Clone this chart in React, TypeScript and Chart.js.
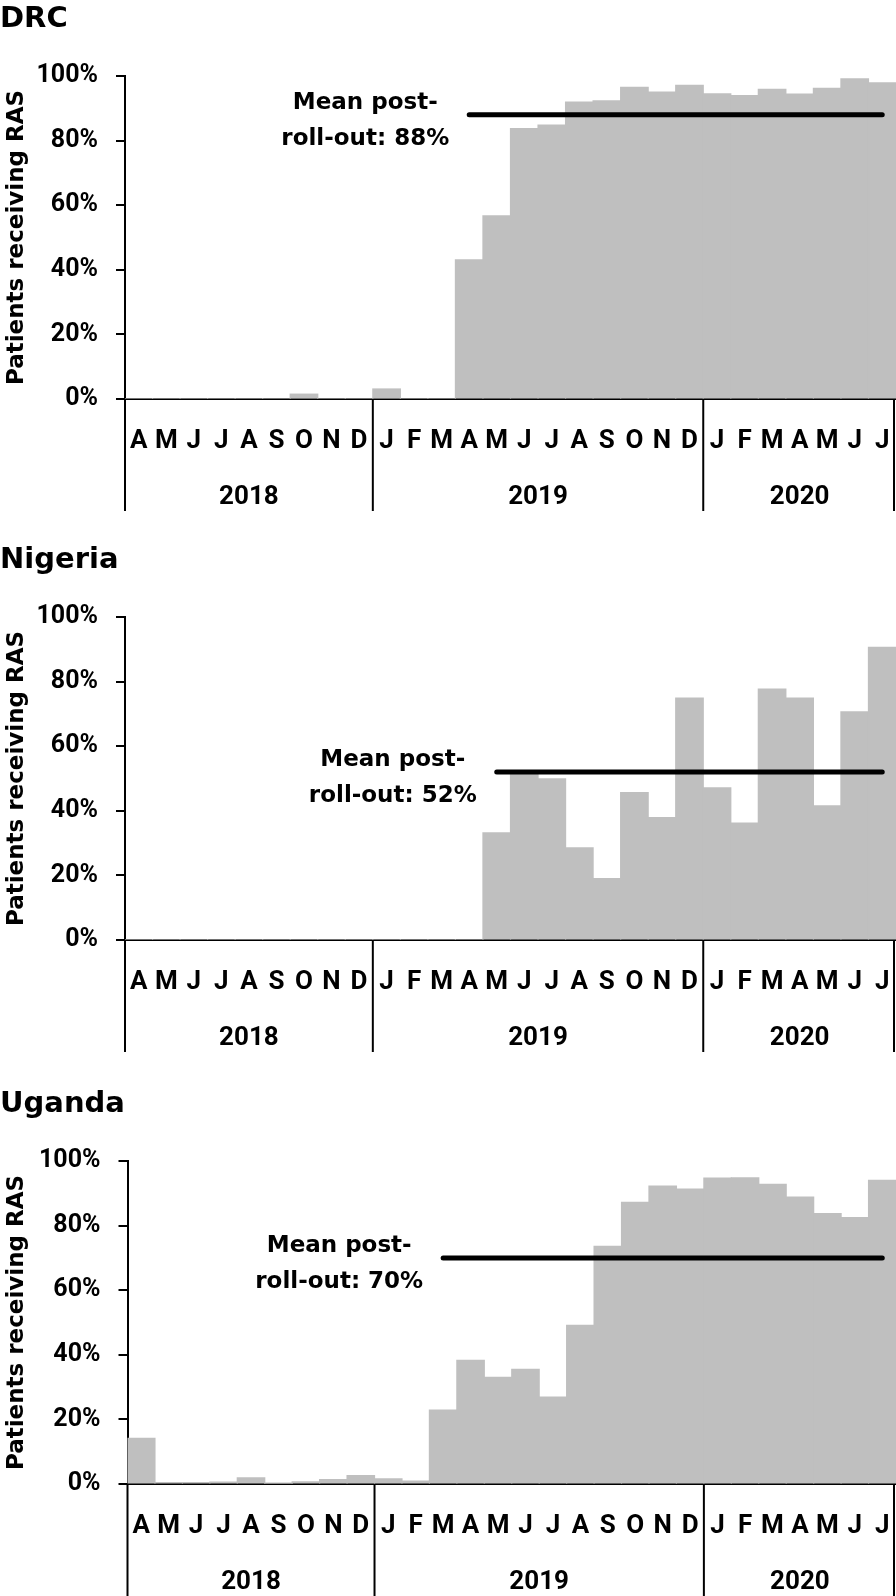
import React, { useEffect, useRef } from "react";
import { Chart, registerables } from "chart.js";

Chart.register(...registerables);

// ---- Data ----
const MONTHS = ["A", "M", "J", "J", "A", "S", "O", "N", "D", "J", "F", "M", "A", "M", "J", "J", "A", "S", "O", "N", "D", "J", "F", "M", "A", "M", "J", "J"];
const YEARS = ["2018", "2019", "2020"];
const YEAR_STARTS = [0, 9, 21];

const DRC_VALUES = [0, 0, 0, 0, 0, 0, 1.5, 0, 0, 3.1, 0, 0, 43.1, 56.7, 83.7, 84.8, 91.9, 92.3, 96.5, 95.0, 97.1, 94.5, 93.9, 95.9, 94.4, 96.2, 99.1, 97.9];
const NIGERIA_VALUES = [0, 0, 0, 0, 0, 0, 0, 0, 0, 0, 0, 0, 0, 33.2, 52.0, 49.9, 28.5, 19.0, 45.6, 37.9, 74.9, 47.1, 36.2, 77.7, 74.9, 41.5, 70.6, 90.6];
const UGANDA_VALUES = [14.1, 0.4, 0.4, 0.6, 1.9, 0.3, 0.7, 1.4, 2.6, 1.6, 0.9, 22.9, 38.3, 33.0, 35.5, 26.9, 49.1, 73.6, 87.2, 92.2, 91.3, 94.7, 94.8, 92.8, 88.8, 83.7, 82.5, 94.0];

const DRC_MEAN = 88;
const NIGERIA_MEAN = 52;
const UGANDA_MEAN = 70;

const DRC_ROLLOUT = 12; // Apr 2019
const NIGERIA_ROLLOUT = 13; // May 2019
const UGANDA_ROLLOUT = 11; // Mar 2019

// ---- Styles ----
const NARROW = 'Roboto, "Liberation Sans", sans-serif';
const WIDE = '"DejaVu Sans", sans-serif';
const BAR_COLOR = "#bfbfbf";

const decorPlugin = {
  id: "decor",
  afterDraw(chart: any, _args: any, opts: any) {
    const { ctx, chartArea, scales } = chart;
    const x = scales.x;
    const y = scales.y;
    const n = MONTHS.length;
    const bounds = [...YEAR_STARTS, n];
    const edge = (b: number) => {
      const px = x.getPixelForValue(b - 0.5);
      return b >= n ? px - 2 : px;
    };
    ctx.save();
    ctx.strokeStyle = "#000";
    ctx.lineWidth = 2;
    bounds.forEach((b) => {
      const px = edge(b);
      ctx.beginPath();
      ctx.moveTo(px, chartArea.bottom);
      ctx.lineTo(px, chart.height);
      ctx.stroke();
    });
    ctx.fillStyle = "#000";
    ctx.font = `bold 26px ${NARROW}`;
    ctx.textAlign = "center";
    ctx.textBaseline = "middle";
    YEARS.forEach((yr, k) => {
      const cx = (x.getPixelForValue(bounds[k] - 0.5) + x.getPixelForValue(bounds[k + 1] - 0.5)) / 2;
      ctx.fillText(yr, cx, chartArea.bottom + 98);
    });
    // annotation
    const lx = x.getPixelForValue(opts.start);
    const ly = y.getPixelForValue(opts.mean);
    ctx.font = `bold 23px ${WIDE}`;
    const l1 = "Mean post-";
    const l2 = `roll-out: ${opts.mean}%`;
    const w = Math.max(ctx.measureText(l1).width, ctx.measureText(l2).width);
    const cx = lx - 20 - w / 2;
    ctx.textBaseline = "alphabetic";
    ctx.fillText(l1, cx, ly - 6);
    ctx.fillText(l2, cx, ly + 30);
    ctx.restore();
  },
};

type PanelProps = {
  title: string;
  values: number[];
  mean: number;
  start: number;
  left: number;
};

function Panel({ title, values, mean, start, left }: PanelProps) {
  const ref = useRef<HTMLCanvasElement>(null);
  useEffect(() => {
    const meanData = MONTHS.map((_, i) => (i >= start ? mean : null));
    const chart = new Chart(ref.current as HTMLCanvasElement, {
      type: "bar",
      data: {
        labels: MONTHS,
        datasets: [
          {
            type: "bar",
            data: values,
            backgroundColor: BAR_COLOR,
            borderWidth: 0,
            inflateAmount: 0.6,
            barPercentage: 1,
            categoryPercentage: 1,
            order: 1,
          } as any,
          {
            type: "line",
            data: meanData,
            borderColor: "#000",
            borderWidth: 5,
            borderCapStyle: "round",
            pointRadius: 0,
            fill: false,
            tension: 0,
            order: 0,
          } as any,
        ],
      },
      options: {
        animation: false,
        responsive: false,
        devicePixelRatio: 1,
        layout: { padding: 0 },
        plugins: {
          legend: { display: false },
          tooltip: { enabled: false },
          title: {
            display: true,
            text: title,
            align: "start",
            color: "#000",
            font: { family: WIDE, size: 29, weight: "bold" },
            padding: { top: 2, bottom: 74 - 29 * 1.2 },
          },
          decor: { start, mean },
        } as any,
        scales: {
          x: {
            type: "category",
            offset: true,
            grid: { display: false, drawTicks: false },
            border: { display: true, color: "#000", width: 2 },
            ticks: {
              color: "#000",
              font: { family: NARROW, size: 26, weight: "bold" },
              padding: 27,
              autoSkip: false,
              maxRotation: 0,
              minRotation: 0,
            },
            afterFit: (s: any) => {
              s.height = 112;
              s.paddingLeft = 0;
              s.paddingRight = 0;
            },
          },
          y: {
            min: 0,
            max: 100,
            grid: { drawOnChartArea: false, color: "#000", lineWidth: 2, tickLength: 9 },
            border: { display: true, color: "#000", width: 2 },
            ticks: {
              stepSize: 20,
              color: "#000",
              font: { family: NARROW, size: 25, weight: "bold" },
              padding: 18,
              callback: (v: any) => `${v}%`,
            },
            title: {
              display: true,
              text: "Patients receiving RAS",
              color: "#000",
              font: { family: WIDE, size: 23, weight: "bold" },
              padding: { top: 3, bottom: 0 },
            },
            afterFit: (s: any) => {
              s.width = left;
            },
          },
        } as any,
      },
      plugins: [decorPlugin as any],
    });
    return () => chart.destroy();
  }, [title, values, mean, start, left]);
  return <canvas ref={ref} width={896} height={511} style={{ display: "block", width: 896, height: 511 }} />;
}

export default function App() {
  useEffect(() => {
    document.body.style.margin = "0";
  }, []);
  return (
    <div style={{ position: "absolute", top: 0, left: 0, width: 896, height: 1596, background: "#fff" }}>
      <div style={{ position: "absolute", top: 0, left: 0 }}>
        <Panel title="DRC" values={DRC_VALUES} mean={DRC_MEAN} start={DRC_ROLLOUT} left={125} />
      </div>
      <div style={{ position: "absolute", top: 541, left: 0 }}>
        <Panel title="Nigeria" values={NIGERIA_VALUES} mean={NIGERIA_MEAN} start={NIGERIA_ROLLOUT} left={125} />
      </div>
      <div style={{ position: "absolute", top: 1085, left: 0 }}>
        <Panel title="Uganda" values={UGANDA_VALUES} mean={UGANDA_MEAN} start={UGANDA_ROLLOUT} left={127.5} />
      </div>
    </div>
  );
}
